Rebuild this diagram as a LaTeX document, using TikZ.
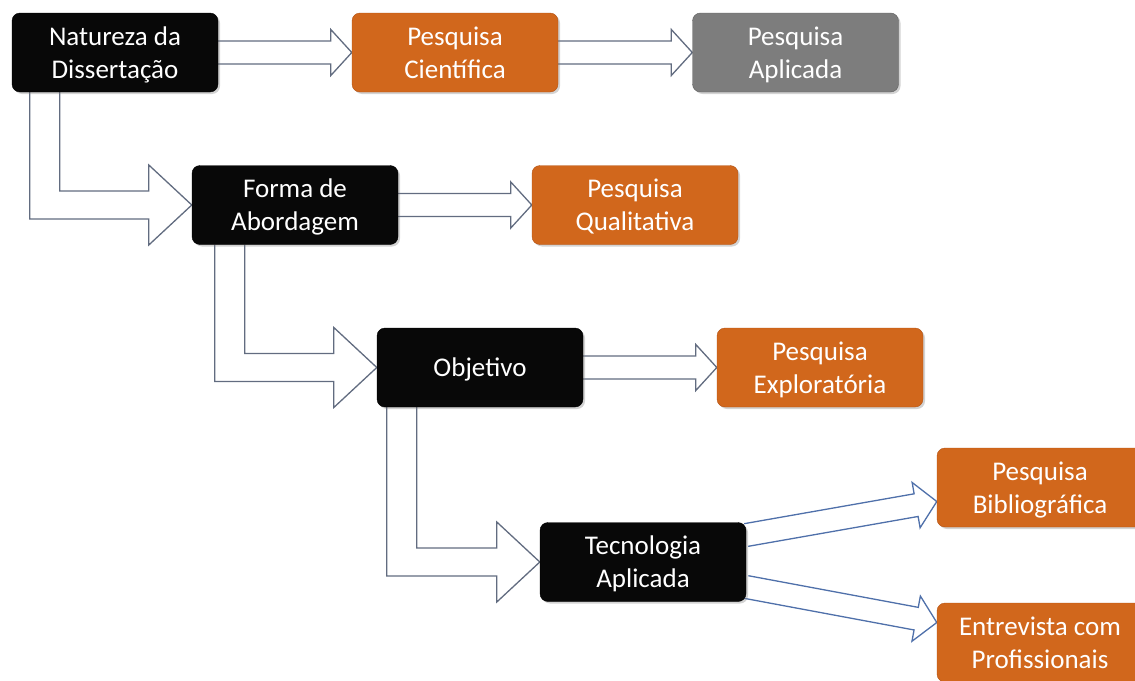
\documentclass[tikz,border=0pt]{standalone}
\usepackage{fontspec}
\setmainfont{Carlito}
\usetikzlibrary{calc, shadows, backgrounds}

\definecolor{boxblack}{RGB}{8,8,8}
\definecolor{boxorange}{RGB}{209,103,28}
\definecolor{orangeline}{RGB}{178,82,20}
\definecolor{boxgray}{RGB}{125,125,125}
\definecolor{grayline}{RGB}{95,95,95}
\definecolor{arrowgray}{RGB}{98,108,128}
\definecolor{arrowblue}{RGB}{79,112,170}

\tikzset{
    box/.style={rounded corners=8pt, minimum width=206pt, minimum height=79pt,
        inner sep=0pt, align=center, text=white, font=\fontsize{27}{33}\selectfont,
        text depth=-3pt,
        drop shadow={opacity=0.35, shadow xshift=2pt, shadow yshift=-2pt}},
    blackbox/.style={box, fill=boxblack, draw=black},
    orangebox/.style={box, fill=boxorange, draw=orangeline},
    graybox/.style={box, fill=boxgray, draw=grayline},
    fatline/.style={draw=arrowgray, line width=1.3pt, fill=white},
    blueline/.style={draw=arrowblue, line width=1.3pt, fill=white}
}

% straight block arrow from #2 to #3
\newcommand{\fatarrow}[3][fatline]{%
    \path ($(#3)!21pt!(#2)$) coordinate (hb);
    \draw[#1] ($(#2)!11.5pt!90:(#3)$) -- ($(hb)!11.5pt!90:(#3)$) -- ($(hb)!23pt!90:(#3)$)
        -- (#3) -- ($(hb)!23pt!-90:(#3)$) -- ($(hb)!11.5pt!-90:(#3)$) -- ($(#2)!11.5pt!-90:(#3)$);
}
% bent block arrow from the bottom of #1 to the left of #2
\newcommand{\elbowarrow}[3]{%
    \draw[fatline] ($(#1.south west)+(#3,0)$) |- ($(#2.west)+(-43,14)$) -- ++(0,26)
        -- (#2.west) -- ++(-43,-40) -- ++(0,26) -| ($(#1.south west)+(#3+30,0)$);
}

\begin{document}
\begin{tikzpicture}[x=1pt, y=-1pt]
    \path[use as bounding box, clip] (0,0) rectangle (1135,680);

    % Natureza
    \node[blackbox] (nat) at (115,52.5) {Natureza da\\Dissertação};
    \node[orangebox] (cien) at (455,52.5) {Pesquisa\\Científica};
    \node[graybox] (apl) at (795.5,52.5) {Pesquisa\\Aplicada};

    % Abordagem
    \node[blackbox] (forma) at (295,205) {Forma de\\Abordagem};
    \node[orangebox] (qual) at (635,205) {Pesquisa\\Qualitativa};

    % Objetivo
    \node[blackbox] (obj) at (480,367.5) {Objetivo};
    \node[orangebox] (expl) at (820,367.5) {Pesquisa\\Exploratória};

    % Tecnologia
    \node[blackbox] (tec) at (643,562) {Tecnologia\\Aplicada};
    \node[orangebox] (bib) at (1040,487.5) {Pesquisa\\Bibliográfica};
    \node[orangebox] (entr) at (1040,642.5) {Entrevista com\\Profissionais};

    \coordinate (tecup) at ($(tec.east)+(0,-27)$);
    \coordinate (tecdown) at ($(tec.east)+(0,25)$);
    \coordinate (bibtip) at ($(bib.west)+(0,14)$);
    \coordinate (entrtip) at ($(entr.west)+(0,-20)$);

    % Arrows
    \begin{pgfonlayer}{background}
        \fatarrow{nat.east}{cien.west}
        \fatarrow{cien.east}{apl.west}
        \fatarrow{forma.east}{qual.west}
        \fatarrow{obj.east}{expl.west}
        \elbowarrow{nat}{forma}{18}
        \elbowarrow{forma}{obj}{23}
        \elbowarrow{obj}{tec}{10}
        \fatarrow[blueline]{tecup}{bibtip}
        \fatarrow[blueline]{tecdown}{entrtip}
    \end{pgfonlayer}
\end{tikzpicture}
\end{document}
